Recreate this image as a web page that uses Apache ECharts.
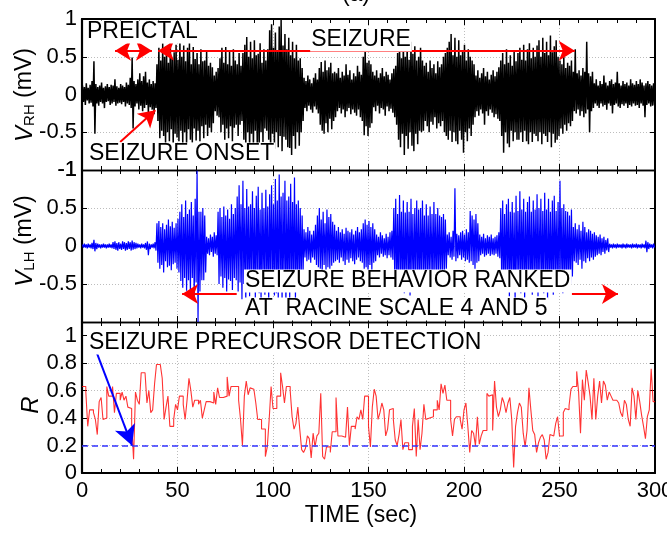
<!DOCTYPE html>
<html>
<head>
<meta charset="utf-8">
<script src="https://cdn.jsdelivr.net/npm/echarts@6/dist/echarts.min.js"></script>
<style>
  html, body { margin: 0; padding: 0; background: #fff; }
  #chart { width: 667px; height: 534px; }
</style>
</head>
<body>
<div id="chart"></div>
<script>
// upper / lower envelope of the right hemisphere trace, one pair per second (0..299 s)
var rhTop = [
  0.12,0.10,0.15,0.09,0.13,0.18,0.44,0.14,0.10,0.12,
  0.16,0.09,0.11,0.14,0.10,0.13,0.12,0.20,0.11,0.09,
  0.14,0.12,0.10,0.16,0.13,0.22,0.49,0.18,0.14,0.20,
  0.28,0.18,0.24,0.30,0.16,0.20,0.14,0.18,0.15,0.40,
  0.62,0.45,0.68,0.50,0.64,0.42,0.70,0.48,0.56,0.66,
  0.46,0.72,0.50,0.65,0.44,0.62,0.69,0.40,0.63,0.47,
  0.55,0.40,0.60,0.44,0.45,0.58,0.38,0.42,0.36,
  0.25,0.30,0.35,
  0.48,0.62,0.42,0.63,0.40,0.58,0.38,0.60,0.45,0.40,0.55,0.38,
  0.55,0.66,0.76,0.50,0.70,0.48,0.72,0.52,0.54,0.68,0.42,0.60,0.45,
  0.60,0.85,0.93,0.62,0.82,0.58,0.90,0.99,0.65,0.80,0.60,
  0.75,0.52,0.70,0.48,0.66,0.45,0.48,0.35,
  0.22,0.18,0.25,0.20,0.15,0.22,0.28,0.20,
  0.35,0.43,0.30,0.45,0.32,0.36,0.42,0.28,0.30,
  0.28,0.35,0.22,0.30,0.25,0.40,0.26,0.32,0.20,0.28,0.24,0.38,0.30,0.26,
  0.50,0.62,0.42,0.45,0.40,
  0.30,0.25,0.32,0.22,0.28,0.35,0.24,0.30,0.26,0.20,0.28,0.34,0.38,
  0.55,0.68,0.48,0.72,0.50,0.66,0.46,0.70,0.54,0.64,0.45,0.50,0.62,0.45,
  0.38,0.42,0.30,0.45,0.35,0.40,0.28,0.44,0.36,0.40,0.50,0.55,
  0.62,0.70,0.80,0.52,0.75,0.50,0.72,0.52,0.58,0.66,0.45,0.60,0.50,0.45,
  0.40,0.25,0.32,0.22,0.28,0.35,0.24,0.30,0.20,0.26,0.32,0.24,0.30,0.36,
  0.45,0.55,0.40,0.60,0.42,0.52,0.38,0.58,0.44,
  0.55,0.62,0.46,0.66,0.45,0.60,0.68,0.48,0.62,0.50,
  0.65,0.72,0.50,0.75,0.55,0.70,0.52,0.78,0.56,0.64,0.72,0.50,
  0.45,0.40,0.50,0.35,0.42,0.38,0.45,
  0.30,0.60,0.28,0.32,0.25,0.35,0.30,0.70,0.28,0.24,0.30,
  0.15,0.20,0.12,0.18,0.14,0.25,0.16,0.12,0.18,0.20,0.14,0.16,0.30,0.15,0.12,0.18,
  0.14,0.16,0.12,0.20,0.15,0.13,0.18,0.14,0.20,0.16,0.12,0.15,0.18,0.14,0.12,0.15
];
var rhBot = [
  -0.10,-0.14,-0.08,-0.12,-0.11,-0.16,-0.52,-0.12,-0.15,-0.10,
  -0.12,-0.18,-0.10,-0.09,-0.14,-0.12,-0.10,-0.15,-0.12,-0.11,
  -0.13,-0.10,-0.16,-0.12,-0.14,-0.18,-0.45,-0.16,-0.12,-0.20,
  -0.15,-0.22,-0.18,-0.14,-0.24,-0.17,-0.20,-0.26,-0.18,-0.35,
  -0.58,-0.48,-0.55,-0.66,-0.50,-0.62,-0.46,-0.68,-0.52,-0.57,
  -0.62,-0.48,-0.66,-0.50,-0.70,-0.46,-0.60,-0.64,-0.45,-0.61,
  -0.48,-0.62,-0.42,-0.58,-0.40,-0.55,-0.44,-0.50,-0.38,
  -0.22,-0.28,-0.30,
  -0.50,-0.40,-0.60,-0.45,-0.58,-0.42,-0.62,-0.44,-0.40,-0.55,-0.40,-0.35,
  -0.60,-0.68,-0.50,-0.75,-0.52,-0.70,-0.48,-0.66,-0.72,-0.50,-0.63,-0.45,-0.48,
  -0.60,-0.77,-0.52,-0.72,-0.50,-0.70,-0.55,-0.75,-0.56,-0.60,-0.70,
  -0.71,-0.80,-0.55,-0.72,-0.50,-0.68,-0.50,-0.35,
  -0.18,-0.22,-0.15,-0.20,-0.24,-0.16,-0.20,-0.25,
  -0.40,-0.48,-0.52,-0.38,-0.50,-0.32,-0.46,-0.35,-0.30,
  -0.22,-0.18,-0.25,-0.20,-0.30,-0.22,-0.18,-0.26,-0.20,-0.24,-0.28,-0.20,-0.30,-0.35,
  -0.54,-0.42,-0.55,-0.44,-0.38,
  -0.17,-0.22,-0.15,-0.25,-0.18,-0.20,-0.28,-0.16,-0.22,-0.19,-0.24,-0.30,-0.40,
  -0.60,-0.70,-0.52,-0.80,-0.55,-0.72,-0.50,-0.68,-0.75,-0.52,-0.66,-0.48,-0.50,-0.48,
  -0.35,-0.42,-0.50,-0.36,-0.40,-0.30,-0.45,-0.38,-0.42,-0.35,-0.50,-0.55,
  -0.60,-0.48,-0.63,-0.50,-0.62,-0.66,-0.48,-0.60,-0.77,-0.50,-0.62,-0.45,-0.55,-0.40,
  -0.30,-0.22,-0.28,-0.20,-0.25,-0.40,-0.22,-0.28,-0.20,-0.24,-0.30,-0.26,-0.32,-0.35,
  -0.55,-0.77,-0.50,-0.65,-0.70,-0.48,-0.62,-0.50,-0.60,
  -0.60,-0.50,-0.63,-0.48,-0.62,-0.66,-0.50,-0.63,-0.52,-0.55,
  -0.62,-0.50,-0.66,-0.52,-0.55,-0.63,-0.50,-0.70,-0.52,-0.64,-0.60,-0.55,
  -0.45,-0.52,-0.40,-0.48,-0.38,-0.42,-0.35,
  -0.22,-0.25,-0.20,-0.28,-0.22,-0.30,-0.25,-0.20,-0.50,-0.22,-0.18,
  -0.12,-0.15,-0.18,-0.12,-0.16,-0.14,-0.20,-0.12,-0.15,-0.25,-0.14,-0.12,-0.16,-0.18,-0.13,-0.15,
  -0.12,-0.18,-0.14,-0.16,-0.12,-0.15,-0.14,-0.18,-0.12,-0.15,-0.30,-0.14,-0.12,-0.16,-0.15,-0.14
];

// left hemisphere trace envelope
var lhTop = [
  0.02,0.03,0.02,0.03,0.02,0.04,0.08,0.04,0.03,0.02,
  0.02,0.03,0.02,0.02,0.03,0.02,0.05,0.06,0.04,0.05,
  0.03,0.06,0.05,0.04,0.06,0.05,0.07,0.05,0.04,0.03,
  0.02,0.03,0.02,0.04,0.06,0.03,0.02,0.03,0.05,
  0.30,0.33,0.25,0.30,0.22,0.28,0.35,0.26,0.32,0.24,0.30,0.36,
  0.45,0.55,0.38,0.60,0.42,0.48,0.58,0.40,0.62,0.99,0.45,0.45,0.50,0.40,
  0.12,0.10,0.15,0.12,0.18,0.14,
  0.45,0.50,0.38,0.52,0.40,0.48,0.36,0.55,0.42,0.50,
  0.65,0.80,0.55,0.86,0.50,0.75,0.52,0.55,0.72,0.50,0.66,0.78,0.48,0.70,0.50,0.74,0.52,0.68,0.80,0.55,
  0.88,0.60,0.94,0.65,0.70,0.86,0.60,0.65,0.82,0.58,0.90,0.55,0.60,0.50,0.40,
  0.22,0.18,0.25,0.20,0.15,0.20,0.28,
  0.40,0.50,0.35,0.45,0.30,0.48,0.38,0.42,0.32,0.28,
  0.20,0.25,0.18,0.22,0.16,0.24,0.20,0.18,0.22,0.15,0.20,0.25,0.18,0.22,
  0.30,0.35,0.28,0.33,0.25,0.30,0.22,
  0.15,0.12,0.18,0.14,0.10,0.16,0.12,0.18,0.20,
  0.50,0.62,0.42,0.67,0.45,0.60,0.44,0.58,0.45,0.62,0.42,0.50,0.60,0.48,
  0.50,0.60,0.40,0.55,0.40,0.52,0.42,0.58,0.42,0.50,0.40,0.38,0.42,0.35,
  0.15,0.18,0.12,0.20,0.76,0.16,0.14,0.18,0.20,0.15,0.22,0.18,
  0.46,0.40,0.35,0.42,0.30,
  0.15,0.12,0.16,0.10,0.14,0.12,0.15,0.10,0.12,0.14,0.18,
  0.50,0.60,0.42,0.55,0.62,0.45,0.58,0.44,0.66,0.46,
  0.72,0.48,0.62,0.45,0.58,0.65,0.45,0.60,0.48,0.68,
  0.50,0.62,0.46,0.70,0.48,0.62,0.45,0.60,0.66,0.46,
  0.58,0.86,0.50,0.55,0.46,0.45,0.40,0.48,
  0.25,0.30,0.22,0.28,0.20,0.32,0.25,0.18,0.22,0.20,0.16,0.18,0.14,0.12,0.15,0.10,0.12,0.08,0.10,
  0.03,0.02,0.03,0.02,0.03,0.02,0.02,0.03,0.02,0.03,0.02,0.02,
  0.03,0.02,0.03,0.02,0.02,0.03,0.02,0.07,0.05,0.03,0.02,0.03
];
var lhBot = [
  -0.02,-0.02,-0.03,-0.02,-0.03,-0.04,-0.07,-0.04,-0.02,-0.03,
  -0.02,-0.02,-0.03,-0.02,-0.02,-0.03,-0.04,-0.05,-0.06,-0.04,
  -0.05,-0.04,-0.06,-0.05,-0.04,-0.06,-0.05,-0.04,-0.03,-0.02,
  -0.03,-0.02,-0.03,-0.05,-0.12,-0.04,-0.02,-0.03,-0.06,
  -0.22,-0.30,-0.25,-0.35,-0.20,-0.28,-0.26,-0.32,-0.24,-0.22,-0.30,-0.35,
  -0.46,-0.55,-0.42,-0.59,-0.45,-0.62,-0.42,-0.70,-0.48,-1.00,-0.60,-0.45,-0.45,-0.35,
  -0.10,-0.12,-0.08,-0.14,-0.10,-0.12,
  -0.50,-0.40,-0.55,-0.42,-0.60,-0.44,-0.46,-0.58,-0.42,-0.45,
  -0.60,-0.48,-0.70,-0.50,-0.75,-0.48,-0.66,-0.45,-0.60,-0.68,-0.46,-0.62,-0.70,-0.48,-0.64,-0.46,-0.72,-0.50,-0.55,-0.65,
  -0.62,-0.70,-0.50,-0.75,-0.52,-0.80,-0.50,-0.72,-0.52,-0.58,-0.70,-0.50,-0.55,-0.45,-0.35,
  -0.15,-0.20,-0.18,-0.22,-0.15,-0.18,-0.25,
  -0.28,-0.30,-0.35,-0.25,-0.32,-0.28,-0.30,-0.26,-0.22,-0.20,
  -0.18,-0.22,-0.15,-0.20,-0.25,-0.18,-0.22,-0.16,-0.20,-0.24,-0.18,-0.15,-0.20,-0.22,
  -0.30,-0.28,-0.35,-0.25,-0.32,-0.22,-0.20,
  -0.12,-0.15,-0.10,-0.14,-0.12,-0.16,-0.12,-0.15,-0.18,
  -0.45,-0.55,-0.60,-0.44,-0.58,-0.62,-0.42,-0.55,-0.65,-0.44,-0.58,-0.45,-0.48,-0.55,
  -0.50,-0.40,-0.55,-0.42,-0.50,-0.40,-0.55,-0.40,-0.52,-0.40,-0.38,-0.42,-0.35,-0.30,
  -0.12,-0.15,-0.18,-0.14,-0.20,-0.16,-0.12,-0.18,-0.15,-0.20,-0.18,-0.22,
  -0.20,-0.25,-0.30,-0.22,-0.20,
  -0.12,-0.10,-0.14,-0.12,-0.10,-0.13,-0.11,-0.12,-0.10,-0.14,-0.16,
  -0.50,-0.58,-0.46,-0.52,-0.66,-0.45,-0.60,-0.72,-0.48,-0.54,
  -0.62,-0.46,-0.68,-0.50,-0.52,-0.58,-0.64,-0.45,-0.60,-0.66,
  -0.46,-0.58,-0.62,-0.45,-0.70,-0.50,-0.58,-0.64,-0.46,-0.56,
  -0.60,-0.45,-0.62,-0.50,-0.55,-0.45,-0.50,-0.40,
  -0.20,-0.22,-0.25,-0.18,-0.30,-0.20,-0.22,-0.16,-0.20,-0.15,-0.18,-0.14,-0.12,-0.10,-0.12,-0.08,-0.10,-0.06,-0.08,
  -0.02,-0.03,-0.02,-0.03,-0.02,-0.02,-0.03,-0.02,-0.03,-0.02,-0.02,-0.03,
  -0.02,-0.02,-0.03,-0.02,-0.03,-0.02,-0.03,-0.08,-0.04,-0.02,-0.03,-0.02
];

// precursor index R, one value per second
var rValues = [
  0.63,0.63,0.59,0.34,0.46,0.46,0.44,0.39,0.28,0.52,
  0.55,0.39,0.40,0.63,0.56,0.56,0.63,0.44,0.58,0.58,
  0.53,0.59,0.53,0.56,0.48,0.47,0.36,0.10,0.59,0.53,
  0.50,0.73,0.73,0.72,0.51,0.60,0.44,0.46,0.65,0.79,
  0.79,0.79,0.69,0.39,0.48,0.56,0.34,0.34,0.39,0.50,
  0.46,0.56,0.56,0.50,0.39,0.53,0.69,0.60,0.48,0.53,
  0.53,0.50,0.53,0.40,0.46,0.52,0.52,0.53,0.51,0.59,
  0.50,0.62,0.55,0.55,0.56,0.56,0.70,0.56,0.63,0.63,
  0.63,0.63,0.53,0.39,0.20,0.56,0.67,0.57,0.62,0.61,
  0.60,0.51,0.39,0.39,0.32,0.32,0.12,0.19,0.39,0.63,
  0.47,0.47,0.56,0.56,0.73,0.63,0.51,0.63,0.63,0.60,
  0.41,0.32,0.36,0.48,0.32,0.17,0.15,0.18,0.27,0.25,
  0.11,0.29,0.19,0.27,0.29,0.58,0.12,0.10,0.19,0.19,
  0.15,0.30,0.30,0.55,0.27,0.27,0.26,0.26,0.27,0.48,
  0.20,0.34,0.34,0.32,0.41,0.39,0.46,0.39,0.56,0.56,
  0.34,0.19,0.48,0.61,0.56,0.39,0.44,0.51,0.46,0.27,
  0.32,0.46,0.47,0.39,0.24,0.20,0.28,0.39,0.17,0.22,
  0.22,0.17,0.17,0.34,0.47,0.12,0.39,0.17,0.29,0.50,
  0.39,0.40,0.40,0.41,0.46,0.46,0.53,0.46,0.65,0.58,
  0.64,0.53,0.53,0.39,0.27,0.39,0.41,0.41,0.39,0.32,
  0.46,0.51,0.34,0.15,0.31,0.29,0.20,0.41,0.21,0.27,
  0.31,0.31,0.58,0.56,0.57,0.31,0.67,0.48,0.41,0.46,
  0.55,0.51,0.44,0.51,0.55,0.39,0.04,0.34,0.44,0.51,
  0.48,0.29,0.19,0.31,0.62,0.46,0.31,0.28,0.15,0.22,
  0.26,0.28,0.24,0.10,0.15,0.28,0.27,0.28,0.36,0.41,
  0.27,0.27,0.44,0.47,0.46,0.49,0.61,0.63,0.63,0.74,
  0.59,0.29,0.68,0.53,0.75,0.66,0.56,0.39,0.69,0.39,
  0.56,0.67,0.51,0.67,0.64,0.53,0.59,0.56,0.53,0.53,
  0.53,0.51,0.44,0.41,0.53,0.50,0.39,0.34,0.62,0.56,
  0.39,0.60,0.52,0.42,0.34,0.25,0.41,0.46,0.76,0.52
];
var rThreshold = 0.2;
var timeTicks = [0, 50, 100, 150, 200, 250, 300];

var FONT = '"Liberation Sans", Arial, sans-serif';

function zigzag(top, bot) {
    var d = [];
    for (var i = 0; i < top.length; i++) {
        d.push([i + 0.25, top[i]]);
        d.push([i + 0.75, bot[i]]);
    }
    return d;
}

var rData = rValues.map(function (v, i) { return [i, v]; });
rData.push([300, rValues[rValues.length - 1]]);

function fmt(v) {
    return String(Math.round(v * 10) / 10);
}

function xAxes(g, showLabel) {
    var common = {
        gridIndex: g,
        type: 'value',
        min: timeTicks[0],
        max: timeTicks[timeTicks.length - 1],
        interval: 50,
        axisTick: { inside: true, length: 6, lineStyle: { color: '#000', width: 1 } },
        minorTick: { show: true, splitNumber: 5, length: 4, lineStyle: { color: '#000', width: 1 } }
    };
    return [
        Object.assign({}, common, {
            position: 'bottom',
            axisLine: { onZero: false, lineStyle: { color: '#000', width: g === 2 ? 2.2 : 1.3 } },
            splitLine: { show: true, lineStyle: { color: '#bdbdbd', type: [1, 2], width: 1 } },
            axisLabel: { show: showLabel, fontSize: 22, color: '#000', fontFamily: FONT, margin: 7 }
        }),
        Object.assign({}, common, {
            position: 'top',
            axisLine: { onZero: false, lineStyle: { color: '#000', width: g === 0 ? 2 : 1.3 } },
            splitLine: { show: false },
            axisLabel: { show: false }
        })
    ];
}

function yAxes(g, min, max, interval, formatter) {
    var common = {
        gridIndex: g,
        type: 'value',
        min: min,
        max: max,
        interval: interval,
        axisTick: { inside: true, length: 5, lineStyle: { color: '#000' } }
    };
    return [
        Object.assign({}, common, {
            position: 'left',
            axisLine: { onZero: false, lineStyle: { color: '#000', width: 2.2 } },
            splitLine: { show: true, lineStyle: { color: '#bdbdbd', type: [1, 2], width: 1 } },
            axisLabel: { fontSize: 22, color: '#000', fontFamily: FONT, margin: 5, formatter: formatter }
        }),
        Object.assign({}, common, {
            position: 'right',
            axisLine: { onZero: false, lineStyle: { color: '#000', width: 2 } },
            splitLine: { show: false },
            axisLabel: { show: false }
        })
    ];
}

var redArrow = { color: '#ff0000', width: 2, type: 'solid' };
var blueArrow = { color: '#0000ff', width: 2, type: 'solid' };

function note(text, x, y, align, extra) {
    return Object.assign({
        type: 'text',
        z: 100,
        style: {
            text: text,
            x: x,
            y: y,
            align: align || 'left',
            verticalAlign: 'middle',
            font: '23px ' + FONT,
            fill: '#000',
            backgroundColor: '#fff',
            padding: [0, 1]
        }
    }, extra || {});
}

function axisTitle(rich, x, y) {
    return {
        type: 'text',
        z: 100,
        x: x,
        y: y,
        rotation: Math.PI / 2,
        style: {
            text: rich,
            align: 'center',
            verticalAlign: 'middle',
            fill: '#000',
            font: '23px ' + FONT,
            rich: {
                v: { fontSize: 24, fontStyle: 'italic', fontFamily: FONT, fill: '#000' },
                s: { fontSize: 15, fontFamily: FONT, fill: '#000', padding: [9, 0, 0, 0] },
                t: { fontSize: 23, fontFamily: FONT, fill: '#000' }
            }
        }
    };
}

var chart = echarts.init(document.getElementById('chart'), null, { renderer: 'canvas' });

var gridBase = { left: 82, right: 12, outerBoundsMode: 'none', containLabel: false };

var option = {
    animation: false,
    backgroundColor: '#fff',
    grid: [
        Object.assign({}, gridBase, { top: 19, height: 151 }),
        Object.assign({}, gridBase, { top: 170, height: 152 }),
        Object.assign({}, gridBase, { top: 322, height: 151 })
    ],
    xAxis: [].concat(xAxes(0, false), xAxes(1, false), xAxes(2, true)),
    yAxis: [].concat(
        yAxes(0, -1, 1, 0.5, fmt),
        yAxes(1, -1, 1, 0.5, function (v) { return v === 1 ? '-1' : (v === -1 ? '' : fmt(v)); }),
        yAxes(2, 0, 1.1, 0.2, function (v) { return v > 1.05 ? '' : fmt(v); })
    ),
    series: [
        {
            name: 'VRH',
            type: 'line',
            xAxisIndex: 0,
            yAxisIndex: 0,
            data: zigzag(rhTop, rhBot),
            showSymbol: false,
            lineStyle: { color: '#000', width: 1.5 },
            z: 3,
            markLine: {
                silent: true,
                symbol: ['none', 'none'],
                symbolSize: [15, 16],
                label: { show: false },
                lineStyle: redArrow,
                data: [
                    [{ coord: [17.3, 0.58], symbol: 'arrow', lineStyle: redArrow }, { coord: [36.6, 0.58], symbol: 'arrow' }],
                    [{ coord: [39.8, 0.58], symbol: 'arrow', lineStyle: redArrow }, { coord: [258, 0.58], symbol: 'arrow' }],
                    [{ coord: [20, -0.63], symbol: 'none', lineStyle: redArrow }, { coord: [38.4, -0.21], symbol: 'arrow' }]
                ]
            }
        },
        {
            name: 'VLH',
            type: 'line',
            xAxisIndex: 2,
            yAxisIndex: 2,
            data: zigzag(lhTop, lhBot),
            showSymbol: false,
            lineStyle: { color: '#0000ff', width: 1.2 },
            z: 3,
            markLine: {
                silent: true,
                symbol: ['none', 'none'],
                symbolSize: [15, 16],
                label: { show: false },
                lineStyle: redArrow,
                data: [
                    [{ coord: [81, -0.63], symbol: 'none', lineStyle: redArrow }, { coord: [52.4, -0.63], symbol: 'arrow' }],
                    [{ coord: [256.5, -0.63], symbol: 'none', lineStyle: redArrow }, { coord: [280.6, -0.63], symbol: 'arrow' }]
                ]
            }
        },
        {
            name: 'R',
            type: 'line',
            xAxisIndex: 4,
            yAxisIndex: 4,
            step: 'end',
            data: rData,
            showSymbol: false,
            lineStyle: { color: 'rgba(255,0,0,0.8)', width: 1.1 },
            z: 3,
            markLine: {
                silent: true,
                symbol: ['none', 'none'],
                symbolSize: [16, 20],
                label: { show: false },
                data: [
                    { yAxis: rThreshold, lineStyle: { color: '#3333ff', width: 1.5, type: [6, 4] } },
                    [{ coord: [7.9, 0.87], symbol: 'none', lineStyle: blueArrow }, { coord: [26.2, rThreshold], symbol: 'arrow' }]
                ]
            }
        }
    ],
    graphic: [
        note('(a)', 356, -5, 'center'),
        note('PREICTAL', 86, 32),
        note('SEIZURE', 361, 40, 'center'),
        note('SEIZURE ONSET', 88, 154),
        note('SEIZURE BEHAVIOR RANKED', 244, 281),
        note('AT  RACINE SCALE 4 AND 5', 244, 309),
        note('SEIZURE PRECURSOR DETECTION', 88, 343),
        note('TIME (sec)', 361, 516, 'center'),
        axisTitle('{v|V}{s|RH}{t| (mV)}', 25, 95),
        axisTitle('{v|V}{s|LH}{t| (mV)}', 25, 241),
        axisTitle('{v|R}', 31, 405)
    ]
};

chart.setOption(option);
</script>
</body>
</html>
